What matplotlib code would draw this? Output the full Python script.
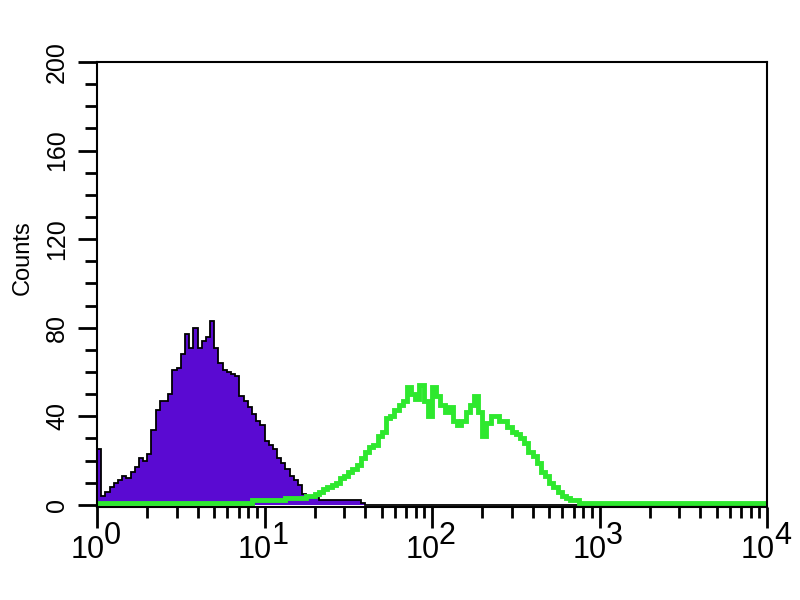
import numpy as np
import matplotlib
matplotlib.use("Agg")
import matplotlib.pyplot as plt
from matplotlib.ticker import FixedLocator, LogLocator, NullFormatter

plt.rcParams['font.family'] = ['Liberation Sans', 'DejaVu Sans']

# channel counts, 160 channels spread over 4 decades (0.025 decade each)
control_counts = [
    25, 4, 6, 8, 10, 11, 13, 12, 15, 17,
    21, 20, 23, 34, 43, 47, 47, 50, 61, 62,
    68, 77, 71, 80, 71, 74, 76, 83, 71, 64,
    61, 60, 59, 58, 49, 47, 44, 41, 38, 36,
    29, 27, 25, 21, 19, 16, 13, 11, 9, 5,
    4, 4, 3, 2, 2, 2, 2, 2, 2, 2,
    2, 2, 2, 1, 0, 0, 0, 0, 0, 0,
    0, 0, 0, 0, 0, 0, 0, 0, 0, 0,
    0, 0, 0, 0, 0, 0, 0, 0, 0, 0,
    0, 0, 0, 0, 0, 0, 0, 0, 0, 0,
    0, 0, 0, 0, 0, 0, 0, 0, 0, 0,
    0, 0, 0, 0, 0, 0, 0, 0, 0, 0,
    0, 0, 0, 0, 0, 0, 0, 0, 0, 0,
    0, 0, 0, 0, 0, 0, 0, 0, 0, 0,
    0, 0, 0, 0, 0, 0, 0, 0, 0, 0,
    0, 0, 0, 0, 0, 0, 0, 0, 0, 0,
]
sample_counts = [
    1, 1, 1, 1, 1, 1, 1, 1, 1, 1,
    1, 1, 1, 1, 1, 1, 1, 1, 1, 1,
    1, 1, 1, 1, 1, 1, 1, 1, 1, 1,
    1, 1, 1, 1, 1, 1, 1, 2, 2, 2,
    2, 2, 2, 2, 2, 3, 3, 3, 3, 3,
    4, 4, 5, 6, 7, 8, 9, 10, 12, 13,
    15, 16, 18, 21, 24, 26, 27, 31, 33, 39,
    40, 43, 45, 47, 53, 50, 48, 54, 47, 40,
    53, 49, 45, 42, 44, 38, 36, 38, 42, 45,
    49, 42, 31, 37, 40, 40, 38, 38, 35, 33,
    32, 30, 28, 24, 22, 19, 15, 13, 10, 8,
    6, 4, 3, 2, 2, 1, 1, 1, 1, 1,
    1, 1, 1, 1, 1, 1, 1, 1, 1, 1,
    1, 1, 1, 1, 1, 1, 1, 1, 1, 1,
    1, 1, 1, 1, 1, 1, 1, 1, 1, 1,
    1, 1, 1, 1, 1, 1, 1, 1, 1, 1,
]
decades = [0, 1, 2, 3, 4]
y_ticks = [0, 40, 80, 120, 160, 200]

edges = 10 ** (np.arange(len(control_counts) + 1) * 4 / len(control_counts))

fig = plt.figure(figsize=(8, 6), dpi=100)
ax = fig.add_axes([97 / 800, 1 - 507 / 600, 670 / 800, 445 / 600])

ax.stairs(control_counts, edges, fill=True, facecolor='#5a0ad2',
          edgecolor='none', zorder=2)
ax.stairs(control_counts, edges, color='black', linewidth=1.3, zorder=3)
ax.stairs(sample_counts, edges, color='#2ee82e', linewidth=3.5, zorder=4)

ax.set_xscale('log')
ax.set_xlim(1, 1e4)
ax.set_ylim(-1, 200)

for s in ax.spines.values():
    s.set_linewidth(1.5)
    s.set_zorder(5)

# y axis
ax.yaxis.set_major_locator(FixedLocator(y_ticks))
ax.yaxis.set_minor_locator(FixedLocator(np.arange(0, 201, 10)))
ax.set_yticklabels([str(v) for v in y_ticks], rotation=90, va='center',
                   fontsize=18)
ax.tick_params(axis='y', which='major', direction='out', length=14, width=2, pad=6)
ax.tick_params(axis='y', which='minor', direction='out', length=9, width=2)

# x axis: decades with hand-placed "10" + raised exponent of equal size
ax.xaxis.set_major_locator(FixedLocator([10 ** d for d in decades]))
ax.xaxis.set_minor_locator(LogLocator(base=10, subs=np.arange(2, 10)))
ax.xaxis.set_major_formatter(NullFormatter())
ax.xaxis.set_minor_formatter(NullFormatter())
ax.tick_params(axis='x', which='major', direction='out', length=15, width=2)
ax.tick_params(axis='x', which='minor', direction='out', length=8, width=2)
ax.tick_params(top=False, right=False, which='both')

for d in decades:
    ax.annotate('10', xy=(10 ** d, 0), xycoords=('data', 'axes fraction'),
                xytext=(-7, -31), textcoords='offset points',
                ha='center', va='center', fontsize=22, annotation_clip=False)
    ax.annotate(str(d), xy=(10 ** d, 0), xycoords=('data', 'axes fraction'),
                xytext=(11, -21), textcoords='offset points',
                ha='center', va='center', fontsize=22, annotation_clip=False)

fig.text(23 / 800, 1 - 258 / 600, 'Counts', rotation=90, ha='center',
         va='center', fontsize=17)

fig.savefig('out.png', dpi=100)
